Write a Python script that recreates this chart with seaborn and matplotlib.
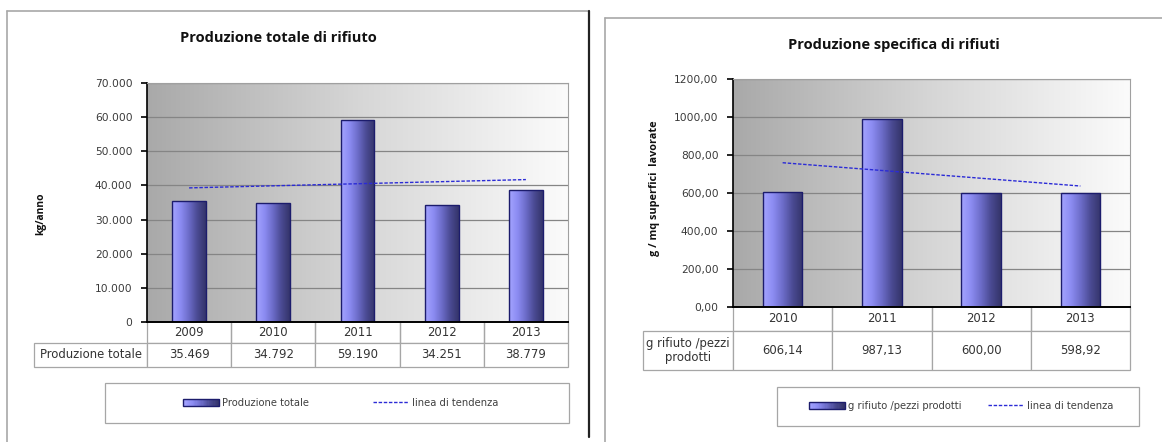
import numpy as np
import matplotlib
matplotlib.use("Agg")
import matplotlib.pyplot as plt
import seaborn as sns
from matplotlib.colors import LinearSegmentedColormap
from matplotlib.patches import Rectangle
from matplotlib.lines import Line2D
from matplotlib.legend_handler import HandlerBase
from matplotlib.ticker import FuncFormatter, MultipleLocator

# ---------------- data ----------------
years_tot = ["2009", "2010", "2011", "2012", "2013"]
prod_tot = [35469, 34792, 59190, 34251, 38779]
title_tot = "Produzione totale di rifiuto"
ylabel_tot = "kg/anno"
row_tot = "Produzione totale"

years_spec = ["2010", "2011", "2012", "2013"]
prod_spec = [606.14, 987.13, 600.00, 598.92]
title_spec = "Produzione specifica di rifiuti"
ylabel_spec = "g / mq superfici  lavorate"
row_spec = "g rifiuto /pezzi\nprodotti"
legend_spec = "g rifiuto /pezzi prodotti"
trend_label = "linea di tendenza"

# ---------------- style ----------------
sns.set_style("white")
plt.rcParams["font.family"] = ["DejaVu Sans"]

W, H = 1162, 442
fig = plt.figure(figsize=(W / 100, H / 100), dpi=100)

def fx(px):
    return px / W

def fy(py):
    return 1 - py / H

bar_cmap = LinearSegmentedColormap.from_list(
    "bar", ["#a4a4ff", "#8c8cf2", "#6c6cc8", "#4a4a92", "#34346a"])
bg_cmap = LinearSegmentedColormap.from_list("bg", ["#a9a9a9", "#d6d6d6", "#fbfbfb"])
edge_col = "#1c1c6c"
trend_col = "#2b2bd6"
grid_col = "#858585"
cell_col = "#a6a6a6"
txt_col = "#333333"


class GradientKey:
    pass


class GradHandler(HandlerBase):
    def create_artists(self, legend, orig_handle, xdescent, ydescent,
                       width, height, fontsize, trans):
        arts = []
        n = 30
        x0, y0 = -xdescent, -ydescent
        for i in range(n):
            arts.append(Rectangle((x0 + width * i / n, y0), width / n + 0.4, height,
                                  facecolor=bar_cmap(i / (n - 1)), edgecolor="none",
                                  transform=trans))
        arts.append(Rectangle((x0, y0), width, height, facecolor="none",
                              edgecolor=edge_col, lw=1.0, transform=trans))
        return arts


def make_panel(ax_px, years, vals, fmt_tick, fmt_val, ymax, ystep,
               header_px, row_px, header, leg_label, leg_center, colspace):
    x0, y0, x1, y1 = ax_px
    ax = fig.add_axes([fx(x0), fy(y1), fx(x1 - x0), (y1 - y0) / H])
    n = len(years)

    # background gradient
    grad = np.linspace(0, 1, 256).reshape(1, -1)
    ax.imshow(grad, cmap=bg_cmap, extent=(0, 1, 0, 1), transform=ax.transAxes,
              aspect="auto", origin="lower", zorder=-5, interpolation="bilinear")

    sns.barplot(x=years, y=vals, ax=ax, width=0.4, color="#7a7ad8",
                edgecolor=edge_col, linewidth=1.0, zorder=3)
    for p in list(ax.patches):
        bx, bw, bh = p.get_x(), p.get_width(), p.get_height()
        im = ax.imshow(grad, cmap=bar_cmap, extent=(bx, bx + bw, 0, bh),
                       aspect="auto", origin="lower", zorder=2.9,
                       interpolation="bilinear")
        im.set_clip_path(p)
        p.set_facecolor("none")

    sns.regplot(x=np.arange(n), y=np.asarray(vals, dtype=float), ax=ax,
                scatter=False, ci=None, truncate=True,
                line_kws=dict(color=trend_col, lw=1.0, linestyle=(0, (2.5, 1.2)),
                              zorder=4))

    ax.set_xlim(-0.5, n - 0.5)
    ax.set_ylim(0, ymax)
    ax.yaxis.set_major_locator(MultipleLocator(ystep))
    ax.yaxis.set_major_formatter(FuncFormatter(fmt_tick))
    ax.set_axisbelow(True)
    ax.yaxis.grid(True, color=grid_col, lw=0.9)
    ax.xaxis.grid(False)
    ax.set_xlabel("")
    ax.set_ylabel("")
    ax.tick_params(axis="x", length=0, labelbottom=False)
    ax.tick_params(axis="y", direction="out", length=4.5, width=1.2, color="black",
                   labelsize=7.7, labelcolor="#3a3a3a", pad=6, left=True)
    for s in ["top", "right"]:
        ax.spines[s].set_color("#a0a0a0")
        ax.spines[s].set_linewidth(0.8)
    ax.spines["left"].set_color("black")
    ax.spines["left"].set_linewidth(1.2)
    ax.spines["bottom"].set_color("black")
    ax.spines["bottom"].set_linewidth(1.4)
    ax.spines["bottom"].set_zorder(10)

    # data table
    pw, ph = x1 - x0, y1 - y0
    hw = header_px / pw
    th = sum(row_px) / ph
    tab = ax.table(cellText=[[""] + years, [header] + [fmt_val(v) for v in vals]],
                   colWidths=[hw] + [1.0 / n] * n, cellLoc="center",
                   bbox=[-hw, -th, 1 + hw, th])
    tab.auto_set_font_size(False)
    tab.set_fontsize(8.4)
    for (r, c), cell in tab.get_celld().items():
        cell.set_edgecolor(cell_col)
        cell.set_linewidth(0.9)
        cell.set_height(row_px[r] / ph)
        cell.get_text().set_color(txt_col)
        if r == 0 and c == 0:
            cell.visible_edges = "open"
        if r == 0 and c > 0:
            cell.visible_edges = "BRL"

    # legend
    handles = [GradientKey(),
               Line2D([], [], color=trend_col, lw=1.0, linestyle=(0, (2.5, 1.2)))]
    ax.legend(handles, [leg_label, trend_label], loc="center",
              bbox_to_anchor=(fx(leg_center[0]), fy(leg_center[1])),
              bbox_transform=fig.transFigure, ncol=2, frameon=False,
              fontsize=7.2, labelcolor="#404040", handlelength=3.6,
              handleheight=0.8, handletextpad=0.3, columnspacing=colspace,
              handler_map={GradientKey: GradHandler()})
    return ax


def fmt_thousands(v, pos=None):
    return f"{v:,.0f}".replace(",", ".")


def fmt_dec(v, pos=None):
    return f"{v:.2f}".replace(".", ",")


# ---------- left panel ----------
make_panel((147, 83, 568, 322), years_tot, prod_tot, fmt_thousands, fmt_thousands,
           70000, 10000, 113, [21, 24], row_tot, row_tot, (341, 403), 6.4)
fig.text(fx(278), fy(38), title_tot, ha="center", va="center", fontsize=10.5,
         fontweight="bold", family="Open Sans", color="#111111")
fig.text(fx(41), fy(214), ylabel_tot, ha="center", va="center", rotation=90,
         fontsize=7.4, fontweight="bold", family="Open Sans", color="#111111")
fig.add_artist(Rectangle((fx(105), fy(423)), fx(569 - 105), (423 - 383) / H,
                         transform=fig.transFigure, facecolor="none",
                         edgecolor="#a6a6a6", lw=0.9))

# ---------- right panel ----------
make_panel((733, 79, 1130, 307), years_spec, prod_spec, fmt_dec, fmt_dec,
           1200, 200, 90, [24, 39], row_spec, legend_spec, (961, 406), 2.7)
fig.text(fx(894), fy(45), title_spec, ha="center", va="center", fontsize=10.5,
         fontweight="bold", family="Open Sans", color="#111111")
fig.text(fx(654), fy(188), ylabel_spec, ha="center", va="center", rotation=90,
         fontsize=7.8, fontweight="bold", family="Open Sans", color="#111111")
fig.add_artist(Rectangle((fx(777), fy(426)), fx(1139 - 777), (426 - 387) / H,
                         transform=fig.transFigure, facecolor="none",
                         edgecolor="#a6a6a6", lw=0.9))

# ---------- chart frames ----------
fig.add_artist(Line2D([fx(7), fx(589)], [fy(11), fy(11)], transform=fig.transFigure,
                      color="#a8a8a8", lw=1.2))
fig.add_artist(Line2D([fx(7), fx(7)], [fy(11), fy(442)], transform=fig.transFigure,
                      color="#a8a8a8", lw=1.2))
fig.add_artist(Line2D([fx(589), fx(589)], [fy(11), fy(437)], transform=fig.transFigure,
                      color="#222222", lw=1.6))
fig.add_artist(Line2D([fx(605), fx(1162)], [fy(18), fy(18)], transform=fig.transFigure,
                      color="#a8a8a8", lw=1.2))
fig.add_artist(Line2D([fx(605), fx(605)], [fy(18), fy(442)], transform=fig.transFigure,
                      color="#a8a8a8", lw=1.2))

fig.savefig("out.png", dpi=100, facecolor="white")
